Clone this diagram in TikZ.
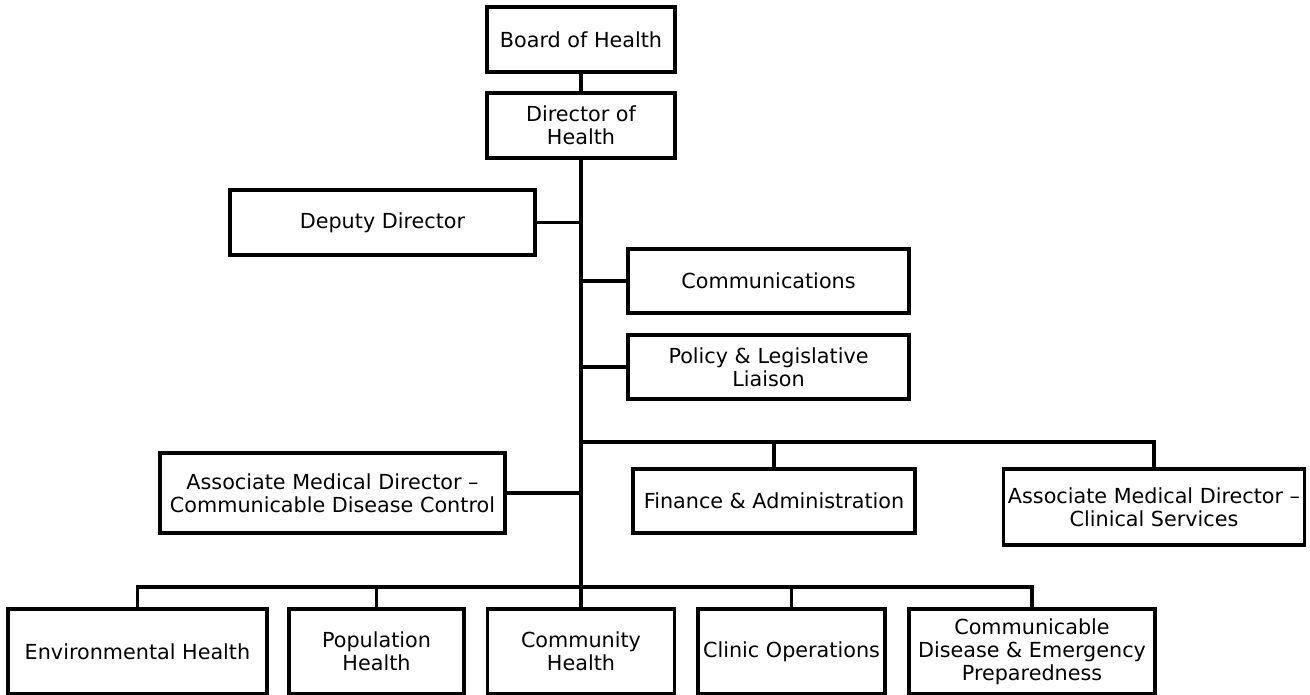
\documentclass[tikz,border=0pt]{standalone}
\usepackage{fontspec}
\setmainfont{DejaVu Sans}
\usepackage{tikz}
\usetikzlibrary{calc, positioning}
\definecolor{InkBlack}{RGB}{0, 0, 0}

\begin{document}
\begin{tikzpicture}[x=0.02cm, y=-0.02cm,
    unit/.style={draw=InkBlack, line width=1.8pt, align=center, inner sep=0pt,
        font=\fontsize{11.8}{13.2}\selectfont},
    link/.style={draw=InkBlack, line width=1.8pt}]
    \useasboundingbox (0,0) rectangle (1310,695);

    % Direccion
    \node[unit, minimum width=188*0.02cm, minimum height=65*0.02cm] (board) at (581,39.5) {Board of Health};
    \node[unit, minimum width=188*0.02cm, minimum height=65*0.02cm] (director) at (581,125.5) {Director of\\Health};

    % Staff
    \node[unit, minimum width=305*0.02cm, minimum height=65*0.02cm] (deputy) at (382.5,222.5) {Deputy Director};
    \node[unit, minimum width=281*0.02cm, minimum height=64*0.02cm] (comms) at (768.5,281) {Communications};
    \node[unit, minimum width=281*0.02cm, minimum height=64*0.02cm] (policy) at (768.5,367) {Policy \& Legislative\\Liaison};
    \node[unit, minimum width=345*0.02cm, minimum height=80*0.02cm] (amdcdc) at (332.5,493) {Associate Medical Director --\\Communicable Disease Control};
    \node[unit, minimum width=282*0.02cm, minimum height=64*0.02cm] (finance) at (774,501) {Finance \& Administration};
    \node[unit, minimum width=301*0.02cm, minimum height=76*0.02cm] (amdcs) at (1154,507) {Associate Medical Director --\\Clinical Services};

    % Divisiones
    \node[unit, minimum width=259*0.02cm, minimum height=85*0.02cm] (env) at (137.5,651.5) {Environmental Health};
    \node[unit, minimum width=175*0.02cm, minimum height=85*0.02cm] (pop) at (376.5,651.5) {Population\\Health};
    \node[unit, minimum width=187*0.02cm, minimum height=85*0.02cm] (comm) at (581,651.5) {Community\\Health};
    \node[unit, minimum width=187*0.02cm, minimum height=85*0.02cm] (clinic) at (791.5,651.5) {Clinic Operations};
    \node[unit, minimum width=246*0.02cm, minimum height=85*0.02cm] (cdep) at (1032,651.5) {Communicable\\Disease \& Emergency\\Preparedness};

    % Lineas
    \coordinate (rightbus) at (581,442);
    \coordinate (botbus) at (581,587);
    \draw[link] (board) -- (director);
    \draw[link] (director.south) -- (botbus);
    \draw[link] (deputy) -- (deputy -| director);
    \draw[link] (comms) -- (comms -| director);
    \draw[link] (policy) -- (policy -| director);
    \draw[link] (amdcdc) -- (amdcdc -| director);
    \draw[link] (rightbus) -| (amdcs.north);
    \draw[link] (finance) -- (finance |- rightbus);
    \draw[link] (env.north) |- (botbus) -| (cdep.north);
    \draw[link] (pop) -- (pop |- botbus);
    \draw[link] (comm) -- (comm |- botbus);
    \draw[link] (clinic) -- (clinic |- botbus);
\end{tikzpicture}
\end{document}
